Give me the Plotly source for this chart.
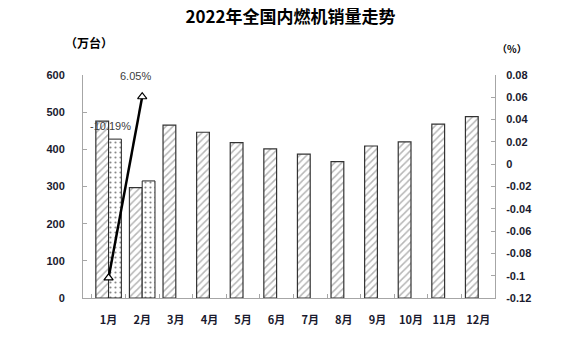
import plotly.graph_objects as go

# Monthly internal-combustion engine sales (10k units) and year-on-year growth
months = ["1月", "2月", "3月", "4月", "5月", "6月", "7月", "8月", "9月", "10月", "11月", "12月"]
sales_2021 = [476, 297, 465, 446, 418, 401, 387, 367, 409, 420, 468, 488]
sales_2022 = [427.5, 315, None, None, None, None, None, None, None, None, None, None]
growth_months = ["1月", "2月"]
growth = [-0.1019, 0.0605]

left_ticks = [0, 100, 200, 300, 400, 500, 600]
right_ticks = [-0.12, -0.1, -0.08, -0.06, -0.04, -0.02, 0, 0.02, 0.04, 0.06, 0.08]
right_ticktext = ["-0.12", "-0.1", "-0.08", "-0.06", "-0.04", "-0.02", "0",
                  "0.02", "0.04", "0.06", "0.08"]

CJK = "Noto Sans CJK SC"
LATIN = "Liberation Sans"
TICK_COLOR = "#1a1a2e"

fig = go.Figure()

fig.add_trace(go.Bar(
    name="2021年", x=months, y=sales_2021,
    marker=dict(
        color="white",
        line=dict(color="#333333", width=1.2),
        pattern=dict(shape="/", fgcolor="#6e6e6e", bgcolor="white", size=5, solidity=0.3),
    ),
))
fig.add_trace(go.Bar(
    name="2022年", x=months, y=sales_2022,
    marker=dict(
        color="white",
        line=dict(color="#222222", width=1),
        pattern=dict(shape=".", fgcolor="#111111", bgcolor="white", size=5, solidity=0.15),
    ),
))
fig.add_trace(go.Scatter(
    name="同比增长", x=growth_months, y=growth, yaxis="y2",
    mode="lines+markers",
    line=dict(color="black", width=2.5),
    marker=dict(symbol="triangle-up", size=8, color="white",
                line=dict(color="black", width=1.2)),
))

# Growth labels
label_offsets = [(2, 152), (-7, 21)]
for m, g, (dx, dy) in zip(growth_months, growth, label_offsets):
    fig.add_annotation(
        x=m, y=g, xref="x", yref="y2", yshift=dy, xshift=dx,
        text=f"{g * 100:.2f}%", showarrow=False,
        font=dict(family=LATIN, size=11, color="#404040"),
    )

fig.add_annotation(
    x=0.0, y=1.0, xref="paper", yref="paper", xanchor="right", yanchor="bottom",
    xshift=32, yshift=22,
    text="<b>（万台）</b>", showarrow=False,
    font=dict(family=CJK, size=12, color="black"),
)
fig.add_annotation(
    x=1.0, y=1.0, xref="paper", yref="paper", xanchor="left", yanchor="bottom",
    xshift=0, yshift=17,
    text="<b>（%）</b>", showarrow=False,
    font=dict(family=CJK, size=10, color="black"),
)

fig.update_layout(
    width=581, height=341,
    margin=dict(l=83, r=86, t=75, b=43),
    paper_bgcolor="white", plot_bgcolor="white",
    showlegend=False,
    barmode="group", bargap=0.24, bargroupgap=0,
    title=dict(
        text="<b>2022年全国内燃机销量走势</b>",
        x=0.5, xanchor="center", y=0.95, yanchor="middle",
        font=dict(family=CJK, size=17, color="black"),
    ),
    xaxis=dict(
        type="category", showline=True, linecolor="#a6a6a6", linewidth=1,
        ticks="inside", ticklen=4, tickcolor="#a6a6a6", tickson="boundaries",
        tickfont=dict(family=CJK, size=11, color=TICK_COLOR, weight="bold"),
        ticklabelstandoff=12,
        showgrid=False,
    ),
    yaxis=dict(
        range=[0, 600], tickvals=left_ticks,
        showline=True, linecolor="#a6a6a6", linewidth=1,
        ticks="inside", ticklen=4, tickcolor="#a6a6a6",
        tickfont=dict(family=LATIN, size=11, color=TICK_COLOR, weight="bold"),
        ticklabelstandoff=15,
        showgrid=False, zeroline=False,
    ),
    yaxis2=dict(
        overlaying="y", side="right",
        range=[-0.12, 0.08], tickvals=right_ticks, ticktext=right_ticktext,
        showline=True, linecolor="#a6a6a6", linewidth=1,
        ticks="inside", ticklen=4, tickcolor="#a6a6a6",
        tickfont=dict(family=LATIN, size=11, color=TICK_COLOR, weight="bold"),
        ticklabelstandoff=8,
        showgrid=False, zeroline=False,
    ),
)

fig.write_html("out.html")
